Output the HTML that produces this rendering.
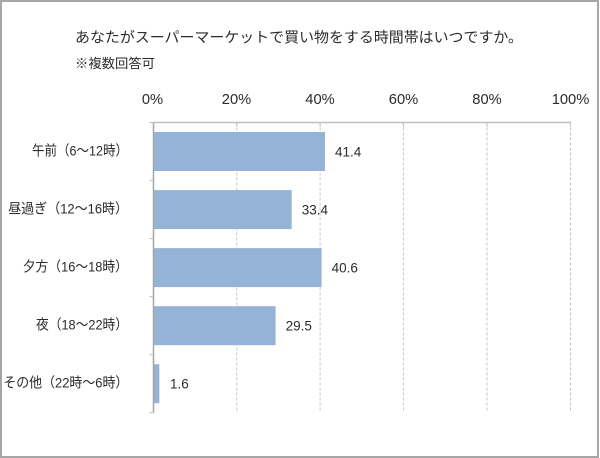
<!DOCTYPE html>
<html>
<head>
<meta charset="utf-8">
<style>
html,body{margin:0;padding:0;background:#fff;}
svg{display:block;}
text{font-family:"Liberation Sans","Noto Sans CJK JP",sans-serif;fill:#2b2b2b;}
</style>
</head>
<body>
<svg width="600" height="458" viewBox="0 0 600 458" xmlns="http://www.w3.org/2000/svg">
  <rect x="0" y="0" width="600" height="458" fill="#fff"/>
  <rect x="1" y="1" width="597" height="456" fill="none" stroke="#a6a6a6" stroke-width="2"/>

  <!-- Title -->
  <text x="75" y="42.5" font-size="14.5" textLength="448" lengthAdjust="spacingAndGlyphs">あなたがスーパーマーケットで買い物をする時間帯はいつですか。</text>
  <text x="75" y="68" font-size="13" textLength="80" lengthAdjust="spacingAndGlyphs">※複数回答可</text>

  <!-- Axis labels -->
  <g font-size="14.7" text-anchor="middle">
    <text x="152.5" y="104">0%</text>
    <text x="236.5" y="104">20%</text>
    <text x="320" y="104">40%</text>
    <text x="403.5" y="104">60%</text>
    <text x="487" y="104">80%</text>
    <text x="570.5" y="104">100%</text>
  </g>

  <!-- Gridlines -->
  <g stroke="#c6c6c6" stroke-width="1" stroke-dasharray="3,2">
    <line x1="236.8" y1="122.5" x2="236.8" y2="412.7"/>
    <line x1="320.1" y1="122.5" x2="320.1" y2="412.7"/>
    <line x1="403.4" y1="122.5" x2="403.4" y2="412.7"/>
    <line x1="487" y1="122.5" x2="487" y2="412.7"/>
    <line x1="570.5" y1="122.5" x2="570.5" y2="412.7"/>
  </g>
  <!-- Top axis -->
  <line x1="153.5" y1="122.5" x2="571" y2="122.5" stroke="#bfbfbf" stroke-width="1.5"/>
  <g stroke="#bfbfbf" stroke-width="1">
    <line x1="236.8" y1="122.5" x2="236.8" y2="127"/>
    <line x1="320.1" y1="122.5" x2="320.1" y2="127"/>
    <line x1="403.4" y1="122.5" x2="403.4" y2="127"/>
    <line x1="487" y1="122.5" x2="487" y2="127"/>
    <line x1="570.5" y1="122.5" x2="570.5" y2="127"/>
  </g>

  <!-- Bars -->
  <g fill="#95b3d7">
    <rect x="153.5" y="132" width="171.5" height="39"/>
    <rect x="153.5" y="190.1" width="138.2" height="39"/>
    <rect x="153.5" y="248.1" width="168.1" height="39"/>
    <rect x="153.5" y="306.2" width="122.1" height="39"/>
    <rect x="153.5" y="364.2" width="5.8" height="39"/>
  </g>

  <!-- Left axis -->
  <line x1="153.5" y1="122.5" x2="153.5" y2="412.7" stroke="#a6a6a6" stroke-width="1.5"/>
  <g stroke="#bfbfbf" stroke-width="1">
    <line x1="149.5" y1="122.5" x2="153.5" y2="122.5"/>
    <line x1="149.5" y1="180.5" x2="153.5" y2="180.5"/>
    <line x1="149.5" y1="238.6" x2="153.5" y2="238.6"/>
    <line x1="149.5" y1="296.6" x2="153.5" y2="296.6"/>
    <line x1="149.5" y1="354.7" x2="153.5" y2="354.7"/>
    <line x1="149.5" y1="412.7" x2="153.5" y2="412.7"/>
  </g>

  <!-- Value labels -->
  <g font-size="13.5">
    <text x="335" y="156.5">41.4</text>
    <text x="301.7" y="214.5">33.4</text>
    <text x="331.6" y="272.5">40.6</text>
    <text x="285.6" y="330.5">29.5</text>
    <text x="170" y="388.5">1.6</text>
  </g>

  <!-- Category labels -->
  <g font-size="14" text-anchor="end">
    <text x="128" y="155.5" textLength="96" lengthAdjust="spacingAndGlyphs">午前（6～12時）</text>
    <text x="128" y="213.5" textLength="119.7" lengthAdjust="spacingAndGlyphs">昼過ぎ（12～16時）</text>
    <text x="128" y="271.5" textLength="105.3" lengthAdjust="spacingAndGlyphs">夕方（16～18時）</text>
    <text x="128" y="329.5" textLength="92" lengthAdjust="spacingAndGlyphs">夜（18～22時）</text>
    <text x="128.3" y="387.5" textLength="125" lengthAdjust="spacingAndGlyphs">その他（22時～6時）</text>
  </g>
</svg>
</body>
</html>
